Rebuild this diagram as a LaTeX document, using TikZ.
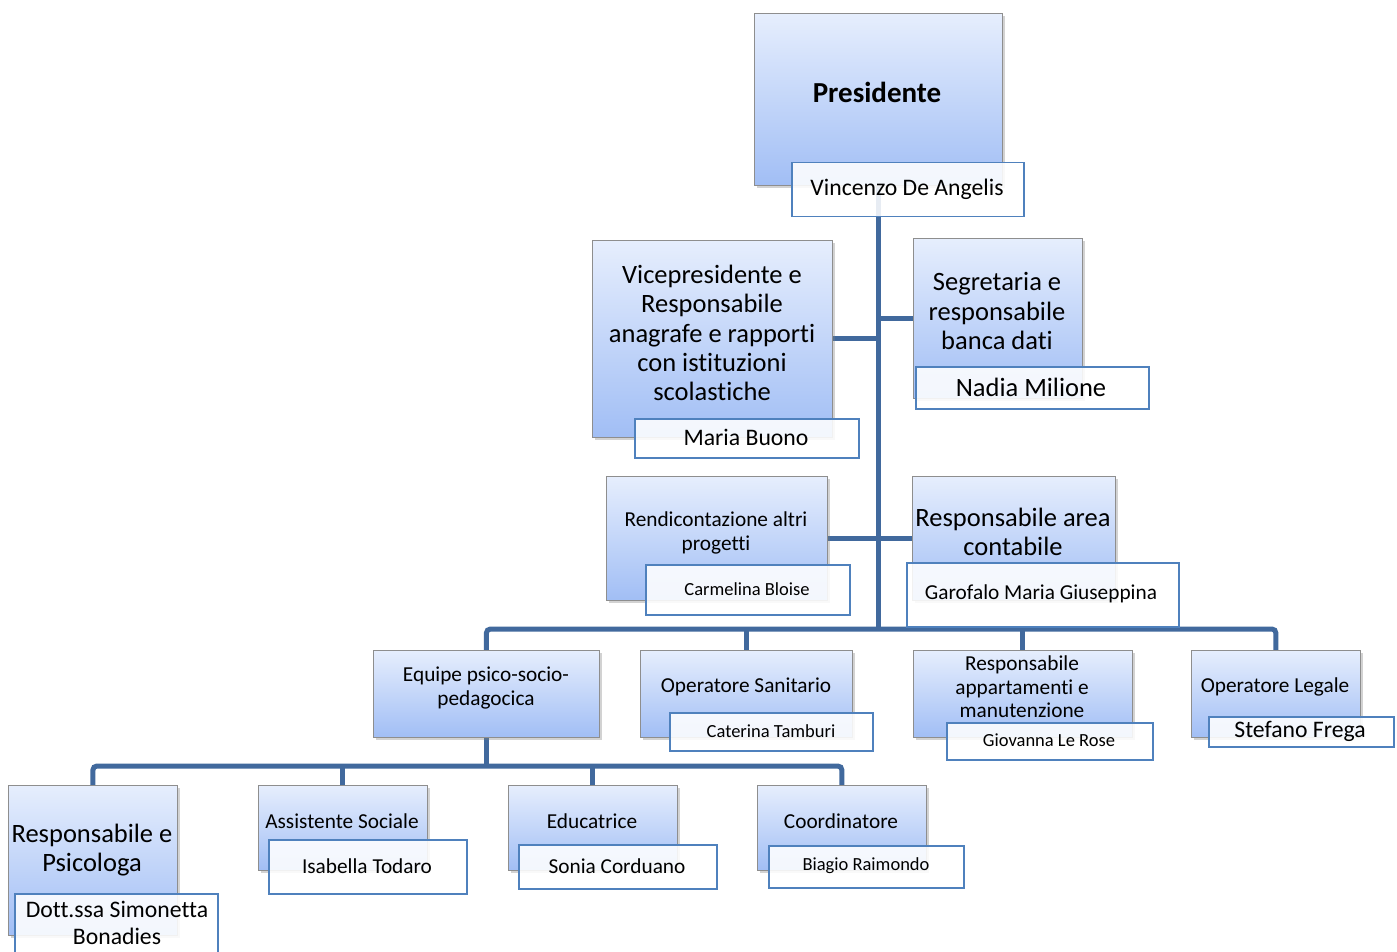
\documentclass[tikz,border=0pt]{standalone}
\usepackage{fontspec}
\setmainfont{Carlito}[Ligatures={NoCommon}]
\usetikzlibrary{shadows}
\definecolor{connc}{HTML}{41699D}
\definecolor{topc}{HTML}{E6EEFD}
\definecolor{botc}{HTML}{A1BEF5}
\definecolor{namec}{HTML}{4F81BD}
\definecolor{rolebd}{HTML}{8E8E8E}
\newcommand{\fsA}{\fontsize{29}{33}\selectfont\bfseries}
\newcommand{\fsB}{\fontsize{23.7}{27}\selectfont}
\newcommand{\fsC}{\fontsize{26.5}{29.3}\selectfont}
\newcommand{\fsD}{\fontsize{21.3}{23.4}\selectfont}
\newcommand{\fsE}{\fontsize{18.5}{21}\selectfont}
\pgfdeclarelayer{bglayer}
\pgfsetlayers{bglayer,main}
\begin{document}
\begin{tikzpicture}[x=1pt,y=-1pt,
  role/.style={draw=rolebd, line width=0.8pt, top color=topc, bottom color=botc,
    anchor=north west, inner sep=0pt,
    drop shadow={shadow xshift=3pt,shadow yshift=-3pt,opacity=0.35}},
  namebox/.style={draw=namec, line width=1.5pt, fill=white, fill opacity=0.88,
    anchor=north west, inner sep=0pt},
  conn/.style={draw=connc, line width=5pt},
  txt/.style={align=center, inner sep=0pt, text=black, anchor=center}]
\clip (0,0) rectangle (1397,952);

\coordinate (b3) at (877,629);
\coordinate (b4) at (485,766);

% ---------- Presidente ----------
\node[role, minimum width=248pt, minimum height=172pt] (pres) at (754,13) {};
\node[txt, font=\fsA] (tPres) at (877,92) {Presidente};
\node[namebox, minimum width=232pt, minimum height=54pt] (nPres) at (791,162) {};
\node[txt, font=\fsB] (tnPres) at (907,189) {Vincenzo De Angelis};

% ---------- Vicepresidente ----------
\node[role, minimum width=240pt, minimum height=197pt] (vice) at (592,240) {};
\node[txt, font=\fsC] (tVice) at (712,333) {Vicepresidente e\\Responsabile\\anagrafe e rapporti\\con istituzioni\\scolastiche};
\node[namebox, minimum width=224pt, minimum height=39pt] (nVice) at (634,418) {};
\node[txt, font=\fsB] (tnVice) at (746,437) {Maria Buono};

% ---------- Segretaria ----------
\node[role, minimum width=169pt, minimum height=160pt] (segr) at (913,238) {};
\node[txt, font=\fsC] (tSegr) at (997,311) {Segretaria e\\responsabile\\banca dati};
\node[namebox, minimum width=233pt, minimum height=42pt] (nSegr) at (915,366) {};
\node[txt, font=\fsC] (tnSegr) at (1031,387) {Nadia Milione};

% ---------- Rendicontazione ----------
\node[role, minimum width=221pt, minimum height=124pt] (rend) at (606,476) {};
\node[txt, font=\fsD] (tRend) at (716,533) {Rendicontazione altri\\progetti};
\node[namebox, minimum width=204pt, minimum height=50pt] (nRend) at (645,564) {};
\node[txt, font=\fsE] (tnRend) at (747,589) {Carmelina Bloise};

% ---------- Responsabile area contabile ----------
\node[role, minimum width=203pt, minimum height=124pt] (cont) at (912,476) {};
\node[txt, font=\fsC] (tCont) at (1013,532) {Responsabile area\\contabile};
\node[namebox, minimum width=272pt, minimum height=64pt] (nCont) at (906,562) {};
\node[txt, font=\fsD] (tnCont) at (1041,594) {Garofalo Maria Giuseppina};

% ---------- Equipe ----------
\node[role, minimum width=226pt, minimum height=87pt] (equipe) at (373,650) {};
\node[txt, font=\fsD] (tEquipe) at (486,688) {Equipe psico-socio-\\pedagocica};

% ---------- Operatore Sanitario ----------
\node[role, minimum width=212pt, minimum height=87pt] (sanit) at (640,650) {};
\node[txt, font=\fsD] (tSanit) at (746,687) {Operatore Sanitario};
\node[namebox, minimum width=203pt, minimum height=38pt] (nSanit) at (669,712) {};
\node[txt, font=\fsE] (tnSanit) at (771,731) {Caterina Tamburi};

% ---------- Responsabile appartamenti ----------
\node[role, minimum width=219pt, minimum height=87pt] (manut) at (913,650) {};
\node[txt, font=\fsD] (tManut) at (1022,687) {Responsabile\\appartamenti e\\manutenzione};
\node[namebox, minimum width=206pt, minimum height=37pt] (nManut) at (946,722) {};
\node[txt, font=\fsE] (tnManut) at (1049,740) {Giovanna Le Rose};

% ---------- Operatore Legale ----------
\node[role, minimum width=169pt, minimum height=87pt] (legale) at (1191,650) {};
\node[txt, font=\fsD] (tLegale) at (1275,687) {Operatore Legale};
\node[namebox, minimum width=185pt, minimum height=30pt] (nLegale) at (1208,716) {};
\node[txt, font=\fsB] (tnLegale) at (1300,731) {Stefano Frega};

% ---------- Responsabile e Psicologa ----------
\node[role, minimum width=169pt, minimum height=150pt] (psico) at (8,785) {};
\node[txt, font=\fsC] (tPsico) at (92,850) {Responsabile e\\Psicologa};
\node[namebox, minimum width=203pt, minimum height=70pt] (nPsico) at (14,893) {};
\node[txt, font=\fsB] (tnPsico) at (117,923) {Dott.ssa Simonetta\\Bonadies};

% ---------- Assistente Sociale ----------
\node[role, minimum width=169pt, minimum height=85pt] (assist) at (258,785) {};
\node[txt, font=\fsD] (tAssist) at (342,821) {Assistente Sociale};
\node[namebox, minimum width=198pt, minimum height=54pt] (nAssist) at (268,839) {};
\node[txt, font=\fsD] (tnAssist) at (367,866) {Isabella Todaro};

% ---------- Educatrice ----------
\node[role, minimum width=169pt, minimum height=85pt] (educ) at (508,785) {};
\node[txt, font=\fsD] (tEduc) at (592,821) {Educatrice};
\node[namebox, minimum width=198pt, minimum height=44pt] (nEduc) at (518,844) {};
\node[txt, font=\fsD] (tnEduc) at (617,866) {Sonia Corduano};

% ---------- Coordinatore ----------
\node[role, minimum width=169pt, minimum height=85pt] (coord) at (757,785) {};
\node[txt, font=\fsD] (tCoord) at (841,821) {Coordinatore};
\node[namebox, minimum width=195pt, minimum height=42pt] (nCoord) at (768,845) {};
\node[txt, font=\fsE] (tnCoord) at (866,866) {Biagio Raimondo};

% ---------- connectors (behind the boxes) ----------
\begin{pgfonlayer}{bglayer}
\fill[white] (0,0) rectangle (1397,952);
\draw[conn] (pres.center) -- (pres.center |- b3);
\draw[conn] (vice.east) -- (vice.east -| pres.center);
\draw[conn] (segr.west) -- (segr.west -| pres.center);
\draw[conn] (rend.east) -- (rend.east -| pres.center);
\draw[conn] (cont.west) -- (cont.west -| pres.center);
\draw[conn, rounded corners=4pt] (equipe.north) |- (legale.north |- b3) -- (legale.north);
\draw[conn] (sanit.north |- b3) -- (sanit.north);
\draw[conn] (manut.north |- b3) -- (manut.north);
\draw[conn] (equipe.center) -- (equipe.center |- b4);
\draw[conn, rounded corners=4pt] (psico.north) |- (coord.north |- b4) -- (coord.north);
\draw[conn] (assist.north |- b4) -- (assist.north);
\draw[conn] (educ.north |- b4) -- (educ.north);
\end{pgfonlayer}
\end{tikzpicture}
\end{document}
